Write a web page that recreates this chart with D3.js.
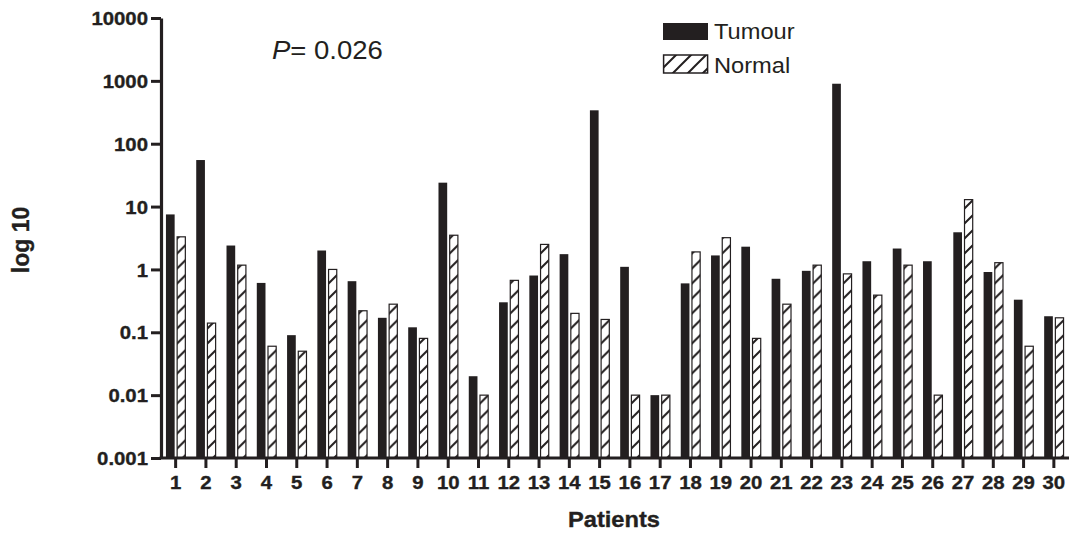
<!DOCTYPE html>
<html>
<head>
<meta charset="utf-8">
<script src="https://cdn.jsdelivr.net/npm/d3@7"></script>
<style>
  html, body { margin: 0; padding: 0; background: #fff; }
  svg { display: block; font-family: "Liberation Sans", Arial, sans-serif; }
</style>
</head>
<body>
<svg id="chart" width="1073" height="536"></svg>
<script>
// Expression per patient, tumour vs matched normal tissue (log scale)
const patients = ["1","2","3","4","5","6","7","8","9","10","11","12","13","14","15",
                  "16","17","18","19","20","21","22","23","24","25","26","27","28","29","30"];
const tumour = [7.5, 55, 2.4, 0.61, 0.09, 2.0, 0.65, 0.17, 0.12, 24,
                0.02, 0.30, 0.80, 1.75, 340, 1.1, 0.01, 0.6, 1.67, 2.3,
                0.71, 0.95, 900, 1.35, 2.15, 1.35, 3.9, 0.91, 0.33, 0.18];
const normal = [3.3, 0.14, 1.17, 0.06, 0.05, 1.0, 0.22, 0.28, 0.08, 3.5,
                0.01, 0.67, 2.5, 0.20, 0.16, 0.01, 0.01, 1.9, 3.2, 0.08,
                0.28, 1.17, 0.85, 0.39, 1.17, 0.01, 12.9, 1.28, 0.06, 0.17];
const yTickLabels = ["0.001", "0.01", "0.1", "1", "10", "100", "1000", "10000"];
const seriesNames = ["Tumour", "Normal"];
const pLabel = "0.026";

const ink = "#231f20";
const sx = 1.1;   // horizontal text stretch

const svg = d3.select("#chart");

// hatch pattern for the normal-tissue bars
const defs = svg.append("defs");
const pat = defs.append("pattern")
  .attr("id", "hatch")
  .attr("patternUnits", "userSpaceOnUse")
  .attr("width", 15).attr("height", 15);
pat.append("rect").attr("width", 15).attr("height", 15).attr("fill", "#fff");
pat.append("path")
  .attr("d", "M-2,17 L17,-2 M-17,17 L2,-2 M13,17 L32,-2")
  .attr("stroke", ink).attr("stroke-width", 2);

const yTicks = yTickLabels.map(Number);
const y = d3.scaleLog().domain([0.001, 10000]).range([458, 18]);
const x = d3.scaleBand().domain(patients).range([160.5, 1069]);
const base = y(0.001);

// bars
const groups = svg.append("g").selectAll("g")
  .data(patients)
  .join("g")
  .attr("transform", d => `translate(${x(d) + x.bandwidth() / 2},0)`);

groups.append("rect")
  .attr("x", -9.7).attr("width", 8.7)
  .attr("y", (d, i) => y(tumour[i]))
  .attr("height", (d, i) => base - y(tumour[i]))
  .attr("fill", ink);

groups.append("rect")
  .attr("x", 1.5).attr("width", 8.2)
  .attr("y", (d, i) => y(normal[i]))
  .attr("height", (d, i) => base - y(normal[i]))
  .attr("fill", "url(#hatch)")
  .attr("stroke", ink).attr("stroke-width", 1.2);

// bold labels shared style
function boldLabel(sel, size) {
  sel.attr("fill", ink)
    .attr("stroke", ink).attr("stroke-width", 0.35)
    .style("font-size", size).style("font-weight", "bold")
    .style("font-family", "'Liberation Sans', Arial, sans-serif");
}

// y axis
const yAxis = svg.append("g")
  .attr("transform", "translate(161,0)")
  .call(d3.axisLeft(y).tickValues(yTicks)
    .tickFormat((d, i) => yTickLabels[i]).tickSize(10).tickSizeOuter(0));
yAxis.select(".domain").attr("stroke", ink).attr("stroke-width", 3.2);
yAxis.selectAll(".tick line").attr("stroke", ink).attr("stroke-width", 3);
yAxis.selectAll(".tick text")
  .attr("x", null).attr("dy", "0.36em")
  .attr("transform", `translate(-13,0) scale(${sx},1)`)
  .call(boldLabel, "18.5px");

// x axis
const xAxis = svg.append("g")
  .attr("transform", `translate(0,${base})`)
  .call(d3.axisBottom(x).tickSize(10).tickSizeOuter(0));
xAxis.select(".domain").attr("stroke", ink).attr("stroke-width", 3.2)
  .attr("d", `M159.5,0H1069`);
xAxis.selectAll(".tick line").attr("stroke", ink).attr("stroke-width", 3);
xAxis.selectAll(".tick text")
  .attr("y", null).attr("dy", null)
  .attr("transform", `translate(0,31) scale(${sx},1)`)
  .call(boldLabel, "18.5px");

// axis titles
svg.append("text")
  .attr("transform", `translate(614,527) scale(${sx},1)`)
  .attr("text-anchor", "middle")
  .call(boldLabel, "21.5px")
  .text("Patients");

svg.append("text")
  .attr("transform", "translate(29,240) rotate(-90)")
  .attr("text-anchor", "middle")
  .call(boldLabel, "23px")
  .text("log 10");

// P value annotation
const pText = svg.append("text")
  .attr("transform", `translate(272,59) scale(${sx},1)`)
  .attr("fill", ink)
  .style("font-size", "25px");
pText.append("tspan").style("font-style", "italic").text("P");
pText.append("tspan").text("= " + pLabel);

// legend
const legend = svg.append("g").attr("transform", "translate(663,23)");
legend.append("rect").attr("x", 0).attr("y", 0).attr("width", 45).attr("height", 17)
  .attr("fill", ink);
legend.append("rect").attr("x", 0.6).attr("y", 32).attr("width", 44).attr("height", 18)
  .attr("fill", "url(#hatch)").attr("stroke", ink).attr("stroke-width", 1.5);
legend.selectAll("text.lg")
  .data(seriesNames)
  .join("text")
  .attr("class", "lg")
  .attr("transform", (d, i) => `translate(51,${16 + i * 34}) scale(${sx},1)`)
  .attr("fill", ink)
  .style("font-size", "21.5px")
  .text(d => d);
</script>
</body>
</html>
